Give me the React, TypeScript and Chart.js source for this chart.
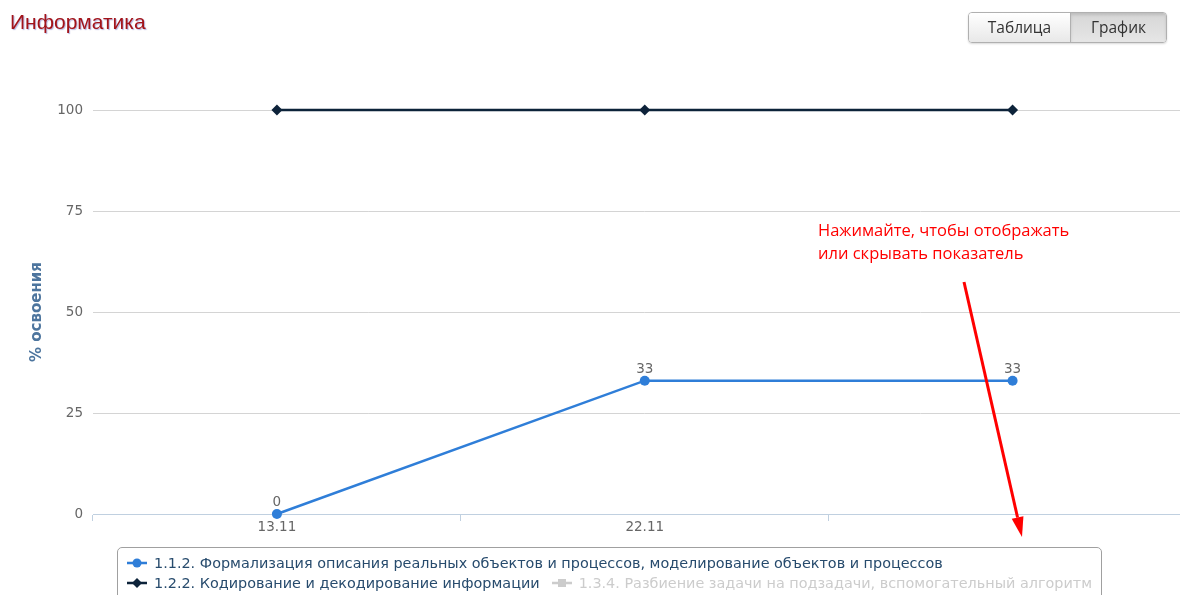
import React, { useEffect, useRef, useState } from "react";
import { Chart, registerables } from "chart.js";

Chart.register(...registerables);

// ---- data ----
const pageTitle = "Информатика";
const viewButtons = ["Таблица", "График"];
const activeButton = 1;
const categories = ["13.11", "22.11", ""];
const yTickValues = [0, 25, 50, 75, 100];
const yAxisTitle = "% освоения";

const series1Name =
  "1.1.2. Формализация описания реальных объектов и процессов, моделирование объектов и процессов";
const series1Values = [0, 33, 33];
const series2Name = "1.2.2. Кодирование и декодирование информации";
const series2Values = [100, 100, 100];
const series3Name = "1.3.4. Разбиение задачи на подзадачи, вспомогательный алгоритм";
const series3Values: (number | null)[] = [null, null, null];

const noteLines = ["Нажимайте, чтобы отображать", "или скрывать показатель"];

type SeriesDef = {
  name: string;
  values: (number | null)[];
  color: string;
  marker: "circle" | "rectRot" | "rect";
  hidden: boolean;
  labels: boolean;
};

const seriesDefs: SeriesDef[] = [
  { name: series1Name, values: series1Values, color: "#2f7ed8", marker: "circle", hidden: false, labels: true },
  { name: series2Name, values: series2Values, color: "#0d233a", marker: "rectRot", hidden: false, labels: false },
  { name: series3Name, values: series3Values, color: "#8bbc21", marker: "rect", hidden: true, labels: false },
];

const CHART_FONT = "'DejaVu Sans', sans-serif";

const dataLabelPlugin = {
  id: "pointLabels",
  afterDatasetsDraw(chart: any) {
    const ctx = chart.ctx;
    chart.data.datasets.forEach((ds: any, i: number) => {
      if (!ds.showLabels || !chart.isDatasetVisible(i)) return;
      const meta = chart.getDatasetMeta(i);
      meta.data.forEach((pt: any, j: number) => {
        const v = ds.data[j];
        if (v === null || v === undefined) return;
        ctx.save();
        ctx.font = "13.5px " + CHART_FONT;
        ctx.fillStyle = "#666666";
        ctx.textAlign = "center";
        ctx.textBaseline = "alphabetic";
        ctx.fillText(String(v), pt.x, pt.y - 8);
        ctx.restore();
      });
    });
  },
};

function LegendSymbol({ def, visible }: { def: SeriesDef; visible: boolean }) {
  const c = visible ? def.color : "#cccccc";
  let mark: React.ReactNode = null;
  if (def.marker === "circle") mark = <circle cx={10} cy={8} r={4.5} fill={c} />;
  else if (def.marker === "rectRot")
    mark = <polygon points="10,3 15,8 10,13 5,8" fill={c} />;
  else mark = <rect x={6} y={4} width={8} height={8} fill={c} />;
  return (
    <svg width={20} height={16} style={{ display: "inline-block", verticalAlign: "middle", marginRight: 7 }}>
      <line x1={0} y1={8} x2={20} y2={8} stroke={c} strokeWidth={2.5} />
      {mark}
    </svg>
  );
}

export default function App() {
  const canvasRef = useRef<HTMLCanvasElement | null>(null);
  const chartRef = useRef<Chart | null>(null);
  const [visible, setVisible] = useState<boolean[]>(seriesDefs.map((s) => !s.hidden));

  useEffect(() => {
    if (!canvasRef.current) return;
    const chart = new Chart(canvasRef.current, {
      type: "line",
      data: {
        labels: categories,
        datasets: seriesDefs.map((s) => ({
          label: s.name,
          data: s.values,
          borderColor: s.color,
          backgroundColor: s.color,
          borderWidth: 2.5,
          pointStyle: s.marker,
          pointRadius: s.marker === "rectRot" ? 5.5 : 5,
          pointBorderWidth: 0,
          pointBackgroundColor: s.color,
          tension: 0,
          fill: false,
          clip: false,
          hidden: s.hidden,
          showLabels: s.labels,
        })) as any,
      },
      options: {
        responsive: false,
        devicePixelRatio: 1,
        animation: false,
        layout: { padding: { left: 0, top: 110, right: 4, bottom: 51 } },
        plugins: {
          legend: { display: false },
          title: { display: false },
          tooltip: { enabled: false },
        },
        scales: {
          x: {
            type: "category",
            offset: true,
            grid: {
              offset: true,
              drawOnChartArea: false,
              drawTicks: true,
              tickLength: 7,
              color: "#C0D0E0",
              lineWidth: 1,
            },
            border: { display: true, color: "#C0D0E0", width: 1 },
            ticks: {
              color: "#666666",
              font: { family: CHART_FONT, size: 13.5 },
              padding: -2,
              maxRotation: 0,
              autoSkip: false,
            },
            afterFit: (s: any) => {
              s.height = 30;
            },
          },
          y: {
            min: 0,
            max: 100,
            afterBuildTicks: (s: any) => {
              s.ticks = yTickValues.map((v) => ({ value: v }));
            },
            grid: {
              drawTicks: false,
              color: (ctx: any) => (ctx.tick && ctx.tick.value === 0 ? "rgba(0,0,0,0)" : "#d4d4d4"),
              lineWidth: 1,
            },
            border: { display: false },
            ticks: {
              color: "#666666",
              font: { family: CHART_FONT, size: 13.5 },
              padding: 10,
            },
            title: {
              display: true,
              text: yAxisTitle,
              color: "#4d759e",
              font: { family: CHART_FONT, size: 15, weight: "bold" },
              padding: { top: 28, bottom: 0 },
            },
            afterFit: (s: any) => {
              s.width = 93;
            },
          },
        },
      },
      plugins: [dataLabelPlugin],
    });
    chartRef.current = chart;
    return () => {
      chart.destroy();
      chartRef.current = null;
    };
  }, []);

  const toggle = (i: number) => {
    const chart = chartRef.current;
    if (!chart) return;
    const nv = visible.slice();
    nv[i] = !nv[i];
    chart.setDatasetVisibility(i, nv[i]);
    chart.update();
    setVisible(nv);
  };

  // arrow geometry (annotation)
  const ax1 = 964, ay1 = 282, ax2 = 1022, ay2 = 537;
  const dx = ax2 - ax1, dy = ay2 - ay1;
  const len = Math.sqrt(dx * dx + dy * dy);
  const ux = dx / len, uy = dy / len;
  const bx = ax2 - ux * 20, by = ay2 - uy * 20;
  const px = -uy * 6, py = ux * 6;

  const legendItem = (i: number, gap: number) => {
    const def = seriesDefs[i];
    return (
      <span
        key={i}
        onClick={() => toggle(i)}
        style={{
          cursor: "pointer",
          color: visible[i] ? "#274b6d" : "#cccccc",
          whiteSpace: "nowrap",
          marginRight: gap,
          display: "inline-block",
        }}
      >
        <LegendSymbol def={def} visible={visible[i]} />
        <span style={{ verticalAlign: "middle" }}>{def.name}</span>
      </span>
    );
  };

  return (
    <div
      style={{
        position: "fixed",
        left: 0,
        top: 0,
        width: 1180,
        height: 595,
        overflow: "hidden",
        background: "#ffffff",
      }}
    >
      <canvas
        ref={canvasRef}
        width={1202}
        height={595}
        style={{ position: "absolute", left: 0, top: 0, width: 1202, height: 595 }}
      />
      <div
        style={{
          position: "absolute",
          left: 10,
          top: 9,
          fontFamily: "'Liberation Sans', Arial, sans-serif",
          fontSize: 21,
          color: "#a3141a",
          textShadow: "1px 1px 1px rgba(120,120,200,0.55)",
          lineHeight: "26px",
        }}
      >
        {pageTitle}
      </div>
      <div
        style={{
          position: "absolute",
          left: 968,
          top: 12,
          height: 29,
          display: "flex",
          border: "1px solid #b0b0b0",
          borderRadius: 4,
          overflow: "hidden",
          boxShadow: "0 1px 2px rgba(0,0,0,0.15)",
          fontFamily: "'Open Sans', sans-serif",
          fontSize: 15.5,
          color: "#333",
        }}
      >
        {viewButtons.map((b, i) => (
          <div
            key={b}
            style={{
              width: i === 0 ? 101 : 95,
              height: 29,
              lineHeight: "28px",
              textAlign: "center",
              borderLeft: i === 0 ? "none" : "1px solid #b0b0b0",
              background:
                i === activeButton
                  ? "linear-gradient(#d6d6d6, #e6e6e6)"
                  : "linear-gradient(#ffffff, #e8e8e8)",
              boxShadow: i === activeButton ? "inset 0 2px 3px rgba(0,0,0,0.12)" : "none",
            }}
          >
            {b}
          </div>
        ))}
      </div>
      <div
        style={{
          position: "absolute",
          left: 818,
          top: 218,
          fontFamily: "'Open Sans', sans-serif",
          fontSize: 16.5,
          lineHeight: "23px",
          color: "#ff0000",
          whiteSpace: "nowrap",
        }}
      >
        {noteLines.map((l) => (
          <div key={l}>{l}</div>
        ))}
      </div>
      <svg
        width={1180}
        height={595}
        style={{ position: "absolute", left: 0, top: 0, pointerEvents: "none" }}
      >
        <line x1={ax1} y1={ay1} x2={bx} y2={by} stroke="#ff0000" strokeWidth={3} />
        <polygon
          points={`${ax2},${ay2} ${bx + px},${by + py} ${bx - px},${by - py}`}
          fill="#ff0000"
        />
      </svg>
      <div
        style={{
          position: "absolute",
          left: 117,
          top: 547,
          width: 985,
          height: 70,
          boxSizing: "border-box",
          border: "1px solid #a0a0a0",
          borderRadius: 5,
          padding: "5px 8px 0 9px",
          fontFamily: CHART_FONT,
          fontSize: 14.4,
          lineHeight: "19px",
          whiteSpace: "nowrap",
          overflow: "hidden",
        }}
      >
        <div style={{ whiteSpace: "nowrap" }}>{legendItem(0, 12)}</div>
        <div style={{ whiteSpace: "nowrap" }}>
          {legendItem(1, 12)}
          {legendItem(2, 0)}
        </div>
      </div>
    </div>
  );
}
